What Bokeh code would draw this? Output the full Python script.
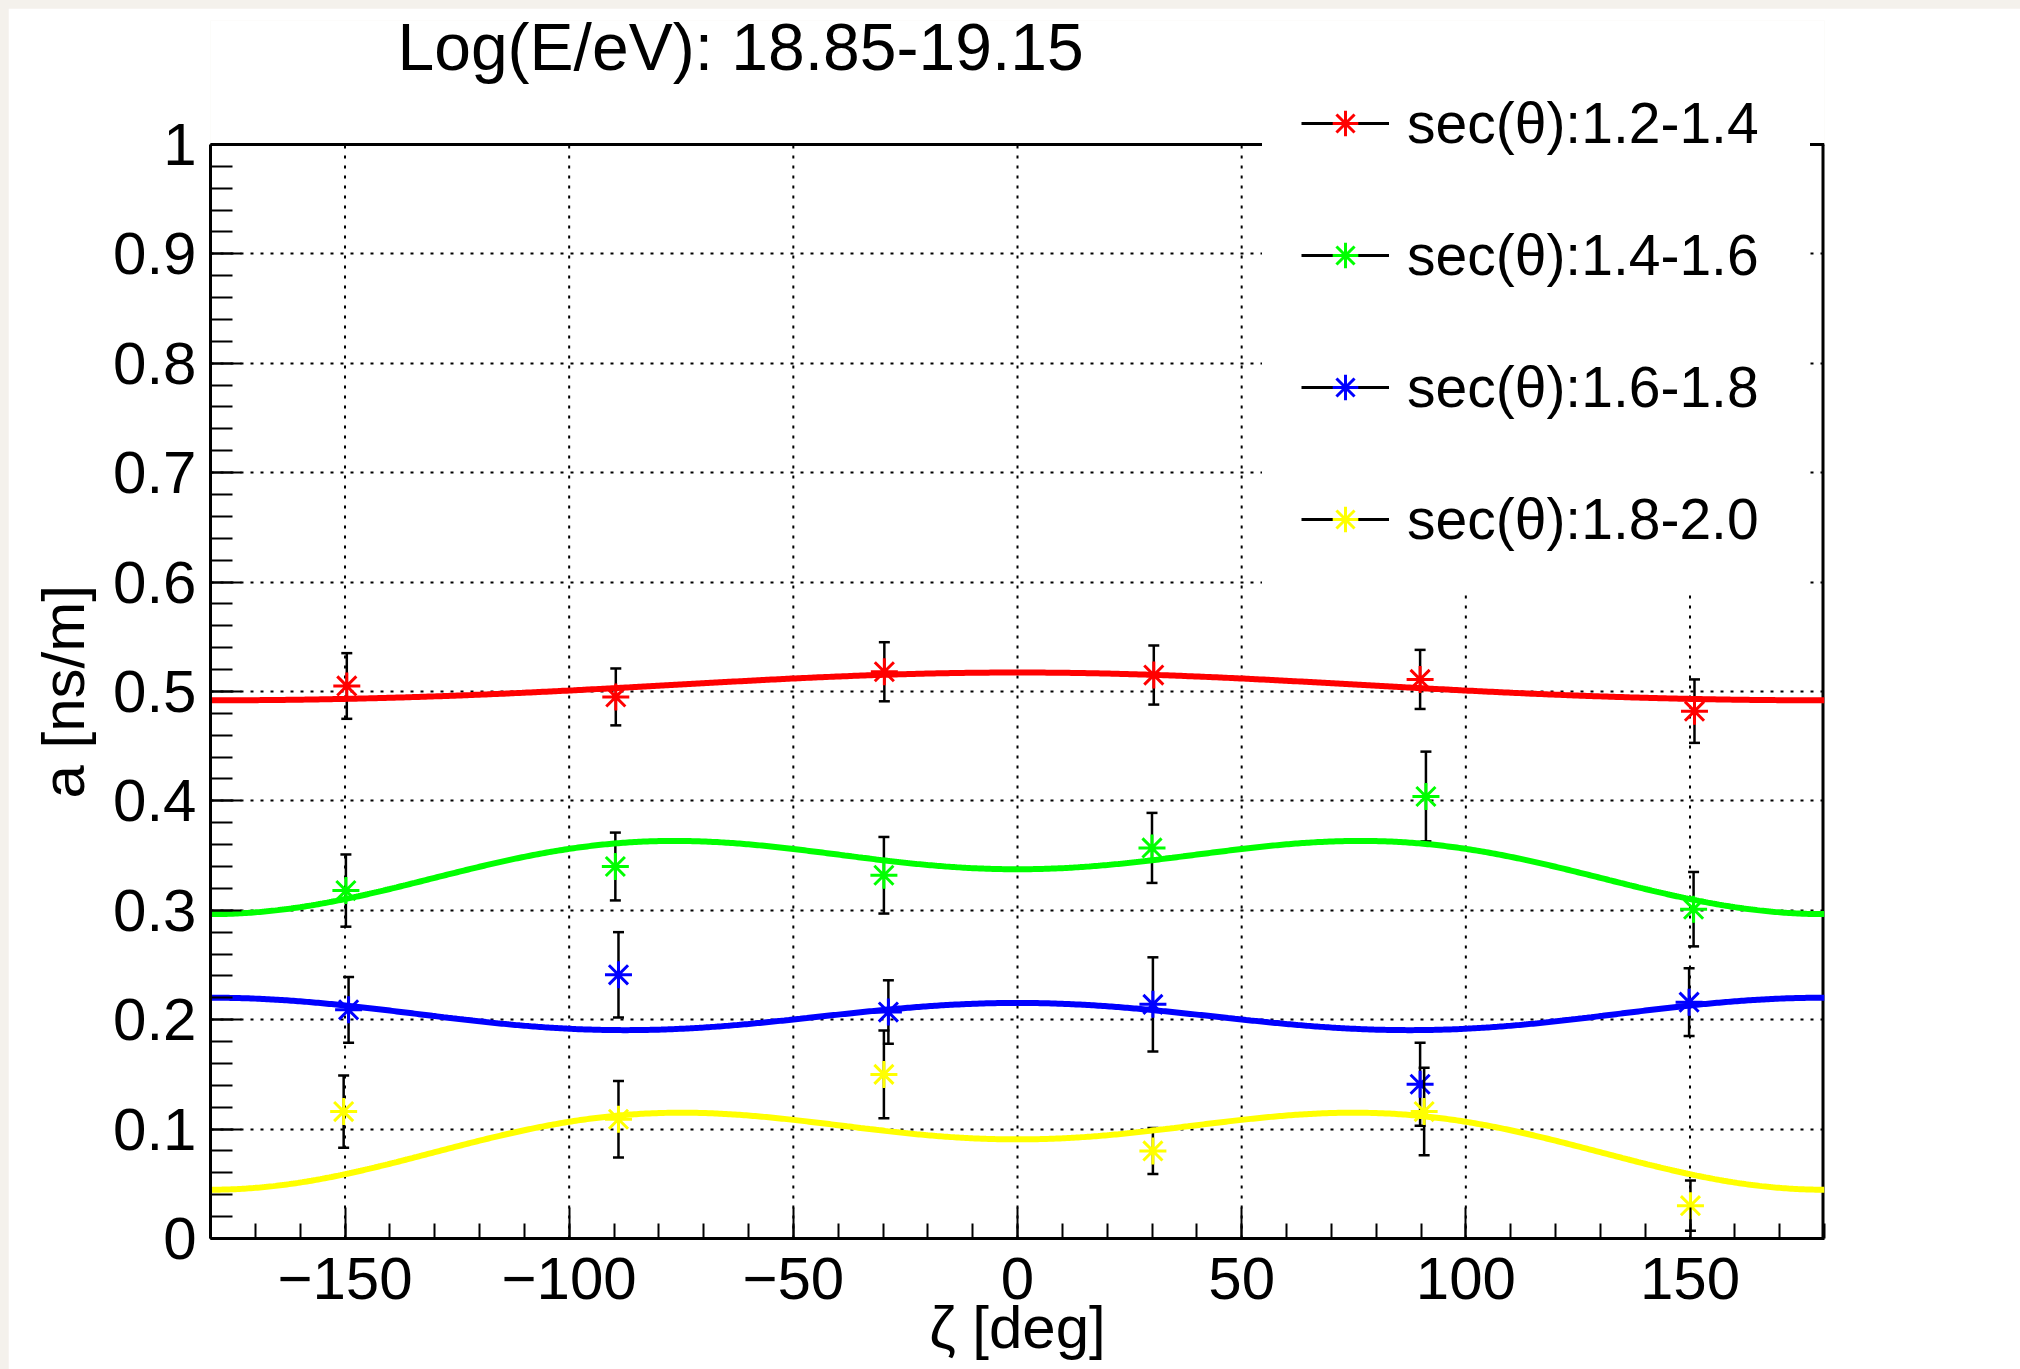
import numpy as np
from bokeh.plotting import figure
from bokeh.models import (ColumnDataSource, Legend, LegendItem, FixedTicker,
                          CustomJSTickFormatter, Label, Title)
from bokeh.layouts import column
from bokeh.embed import file_html
from bokeh.resources import INLINE

# ---------------- data ----------------
title_text = "Log(E/eV): 18.85-19.15"
x_label = "ζ [deg]"
y_label = "a [ns/m]"

series_labels = ["sec(θ):1.2-1.4", "sec(θ):1.4-1.6", "sec(θ):1.6-1.8", "sec(θ):1.8-2.0"]
series_colors = ["#ff0000", "#00ff00", "#0000ff", "#ffff00"]

zeta_red = [-149.6, -89.6, -29.7, 30.4, 89.8, 151.0]
a_red = [0.505, 0.495, 0.518, 0.515, 0.511, 0.482]
err_red = [0.030, 0.026, 0.027, 0.027, 0.027, 0.029]

zeta_green = [-149.8, -89.7, -29.8, 30.0, 91.1, 150.8]
a_green = [0.318, 0.340, 0.332, 0.357, 0.404, 0.301]
err_green = [0.033, 0.031, 0.035, 0.032, 0.041, 0.034]

zeta_blue = [-149.2, -89.0, -28.8, 30.2, 89.8, 149.8]
a_blue = [0.209, 0.241, 0.207, 0.214, 0.141, 0.216]
err_blue = [0.030, 0.039, 0.029, 0.043, 0.038, 0.031]

zeta_yellow = [-150.3, -89.0, -29.8, 30.2, 90.7, 150.1]
a_yellow = [0.116, 0.109, 0.150, 0.080, 0.116, 0.030]
err_yellow = [0.033, 0.035, 0.040, 0.021, 0.040, 0.023]

# fit curves drawn in the reference: a0 + a1*cos(zeta) + a2*cos(2*zeta)
fit_a0 = [0.5038, 0.3390, 0.2041, 0.0898]
fit_a1 = [0.0127, 0.0205, -0.0024, 0.0230]
fit_a2 = [0.0008, -0.0220, 0.0136, -0.0222]

x_major = [-150, -100, -50, 0, 50, 100, 150]
y_major = [0.0, 0.1, 0.2, 0.3, 0.4, 0.5, 0.6, 0.7, 0.8, 0.9, 1.0]
x_lim = (-180, 180)
y_lim = (0.0, 1.0)

zetas = [zeta_red, zeta_green, zeta_blue, zeta_yellow]
vals = [a_red, a_green, a_blue, a_yellow]
errs = [err_red, err_green, err_blue, err_yellow]

# ---------------- figure ----------------
FONT = "Liberation Sans"
# the frame reaches above y=1 so that title and legend (drawn inside the
# frame) are not clipped; the visible box is drawn up to y=1 only.
y_top = 1.0 + 124.0 / 1095.0

p = figure(width=2012, height=1361, x_range=x_lim, y_range=(y_lim[0], y_top),
           output_backend="svg", toolbar_location=None,
           min_border_left=202, min_border_right=196,
           min_border_top=12, min_border_bottom=131)
p.margin = (8, 0, 0, 8)
p.background_fill_color = "white"
p.border_fill_color = "white"
p.outline_line_color = None

# ticks
p.xaxis.ticker = FixedTicker(ticks=x_major, minor_ticks=list(range(-180, 181, 10)))
p.yaxis.ticker = FixedTicker(ticks=y_major,
                             minor_ticks=[round(0.02 * i, 2) for i in range(51)])
p.xaxis.formatter = CustomJSTickFormatter(
    code="return tick < 0 ? '\\u2212' + Math.abs(tick) : tick.toString();")
p.yaxis.formatter = CustomJSTickFormatter(
    code="return (Math.round(tick * 10) / 10).toString();")
p.yaxis.bounds = y_lim
p.xaxis.bounds = x_lim

for ax in (p.xaxis[0], p.yaxis[0]):
    ax.axis_line_color = "black"
    ax.axis_line_width = 3
    ax.major_tick_line_color = "black"
    ax.minor_tick_line_color = "black"
    ax.major_tick_line_width = 2
    ax.minor_tick_line_width = 2
    ax.major_tick_out = 0
    ax.minor_tick_out = 0
    ax.major_tick_in = 31
    ax.major_label_text_font = FONT
    ax.major_label_text_font_size = "60px"
    ax.major_label_text_color = "black"
    ax.axis_label_text_font = FONT
    ax.axis_label_text_font_size = "60px"
    ax.axis_label_text_font_style = "normal"
    ax.axis_label_text_color = "black"

p.xaxis.minor_tick_in = 15
p.yaxis.minor_tick_in = 22
p.xaxis.major_label_standoff = 19
p.yaxis.major_label_standoff = 14
p.xaxis.axis_label = x_label
p.xaxis.axis_label_standoff = -8

# y axis title, centred on the 0..1 part of the axis
ytitle = Title(text=y_label, align="left", offset=440, standoff=28,
               vertical_align="bottom", text_font=FONT, text_font_size="60px",
               text_font_style="normal", text_color="black")
p.add_layout(ytitle, "left")

p.xgrid.visible = False
p.ygrid.grid_line_color = "black"
p.ygrid.grid_line_width = 2
p.ygrid.grid_line_dash = "3 7"

# vertical grid lines at the major x ticks, only up to y = 1
p.segment(x0=x_major, y0=[y_lim[0]] * len(x_major), x1=x_major,
          y1=[y_lim[1]] * len(x_major), line_color="black", line_width=2,
          line_dash="3 7")
# frame: top and right edges
p.segment(x0=[x_lim[0]], y0=[y_lim[1]], x1=[x_lim[1]], y1=[y_lim[1]],
          line_color="black", line_width=3)
p.segment(x0=[x_lim[1]], y0=[y_lim[0]], x1=[x_lim[1]], y1=[y_lim[1]],
          line_color="black", line_width=6)

# ---------------- series ----------------
curve_x = np.linspace(x_lim[0], x_lim[1], 721)
legend_items = []
for i in range(4):
    z = np.array(zetas[i])
    v = np.array(vals[i])
    e = np.array(errs[i])
    src = ColumnDataSource(dict(x=z, y=v, lo=v - e, hi=v + e))
    p.segment(x0="x", y0="lo", x1="x", y1="hi", source=src,
              line_color="black", line_width=2.5)
    p.scatter(x="x", y="lo", source=src, marker="dash", size=11,
              line_color="black", line_width=2.5)
    p.scatter(x="x", y="hi", source=src, marker="dash", size=11,
              line_color="black", line_width=2.5)
    pts = p.scatter(x="x", y="y", source=src, marker="asterisk", size=27,
                    line_color=series_colors[i], line_width=3)
    rad = np.deg2rad(curve_x)
    curve_y = fit_a0[i] + fit_a1[i] * np.cos(rad) + fit_a2[i] * np.cos(2 * rad)
    p.line(curve_x, curve_y, line_color=series_colors[i], line_width=6)
    # black line used only for the legend glyph (no visible points)
    blk = p.line(x=[np.nan], y=[np.nan], line_color="black", line_width=3)
    legend_items.append(LegendItem(label=series_labels[i], renderers=[blk, pts]))

legend = Legend(items=legend_items, location=(1052, 647), orientation="vertical",
                padding=39, margin=0, spacing=66,
                glyph_width=88, glyph_height=64, label_height=64,
                label_width=364, label_standoff=18,
                label_text_font=FONT, label_text_font_size="57px",
                label_text_color="black",
                background_fill_color="white", background_fill_alpha=1.0,
                border_line_alpha=0)
p.add_layout(legend, "center")

title = Label(x=187, y=1192, x_units="screen", y_units="screen",
              text=title_text, text_font=FONT, text_font_size="66px",
              text_color="black", text_baseline="alphabetic", text_align="left")
p.add_layout(title)

page = column(p, styles={"background-color": "#f4f1ec"})

open("out.html", "w").write(file_html(page, INLINE))
